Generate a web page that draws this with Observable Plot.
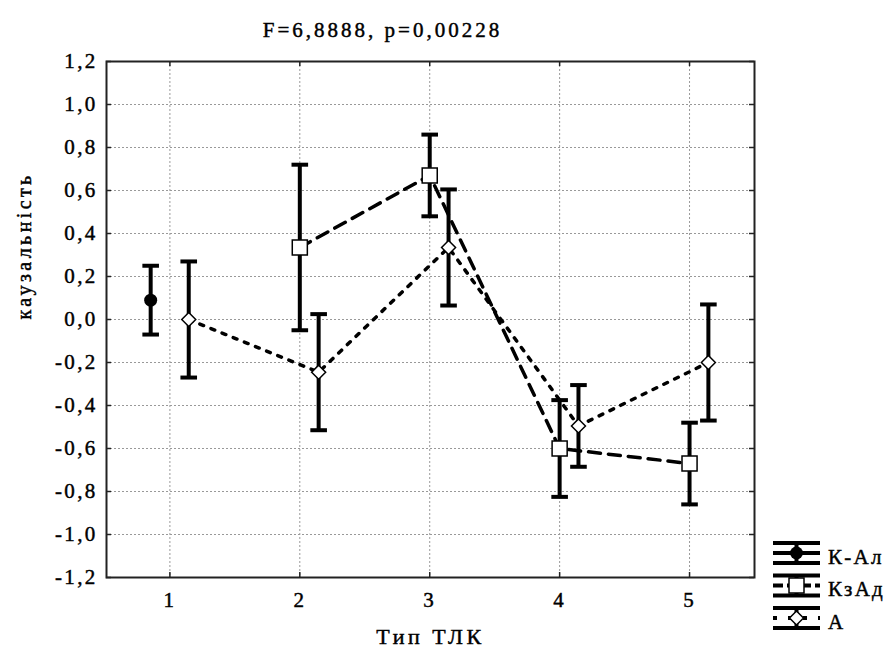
<!DOCTYPE html>
<html>
<head>
<meta charset="utf-8">
<script src="https://cdn.jsdelivr.net/npm/d3@7"></script>
<script src="https://cdn.jsdelivr.net/npm/@observablehq/plot@0.6"></script>
<style>
  html, body { margin: 0; padding: 0; background: #fff; }
  svg text { font-family: "Liberation Serif", "Times New Roman", serif !important; }
</style>
</head>
<body>
<div id="chart"></div>
<script>
// ---- data ----
const titleText = "F=6,8888, p=0,00228";
const xLabel = "Тип ТЛК";
const yLabel = "каузальність";
const types = [1, 2, 3, 4, 5];
const yTicks = [-1.2, -1.0, -0.8, -0.6, -0.4, -0.2, 0.0, 0.2, 0.4, 0.6, 0.8, 1.0, 1.2];
const seriesNames = ["К-Ал", "КзАд", "А"];
const kAlMean  = [0.09, null, null, null, null];
const kAlErr   = [0.16, null, null, null, null];
const kzAdMean = [null, 0.335, 0.67, -0.60, -0.67];
const kzAdErr  = [null, 0.385, 0.19, 0.225, 0.19];
const aMean    = [0.0, -0.245, 0.335, -0.495, -0.20];
const aErr     = [0.27, 0.27, 0.27, 0.19, 0.27];

// ---- styling per series ----
const offsets = {"К-Ал": -0.148, "КзАд": 0, "А": 0.145};
const dashes = {"К-Ал": null, "КзАд": "12,8", "А": "4,8"};
const means = [kAlMean, kzAdMean, aMean];
const errs = [kAlErr, kzAdErr, aErr];

const rows = [];
seriesNames.forEach((s, si) => {
  types.forEach((t, i) => {
    const m = means[si][i];
    if (m == null) return;
    const e = errs[si][i];
    rows.push({series: s, type: t, x: t + offsets[s], mean: m, lo: m - e, hi: m + e});
  });
});

const capSymbol = {draw(ctx) { ctx.moveTo(-8.3, 0); ctx.lineTo(8.3, 0); }};
const fmt = d => d.toFixed(1).replace(".", ",");

const legend = (index, scales, values, dims) => {
  const g = d3.create("svg:g");
  const x0 = dims.width - dims.marginRight + 19;
  const w = 47;
  const cy0 = dims.height - dims.marginBottom - 24;
  seriesNames.forEach((s, i) => {
    const cy = cy0 + i * 32.5;
    const line = (y, dash) => g.append("line")
      .attr("x1", x0).attr("x2", x0 + w).attr("y1", y).attr("y2", y)
      .attr("stroke", "#000").attr("stroke-width", 4)
      .attr("stroke-dasharray", dash);
    line(cy - 10, null);
    line(cy + 10, null);
    line(cy, dashes[s] ? (s === "А" ? "4,11" : "10,4") : null);
    g.append("line").attr("x1", x0 + w / 2).attr("x2", x0 + w / 2)
      .attr("y1", cy - 10).attr("y2", cy + 10)
      .attr("stroke", "#000").attr("stroke-width", 4);
    const cx = x0 + w / 2;
    if (s === "К-Ал") {
      g.append("circle").attr("cx", cx).attr("cy", cy).attr("r", 6.5).attr("fill", "#000");
    } else if (s === "КзАд") {
      g.append("rect").attr("x", cx - 7.5).attr("y", cy - 7.5).attr("width", 15).attr("height", 15)
        .attr("fill", "#fff").attr("stroke", "#000").attr("stroke-width", 1.5);
    } else {
      g.append("path").attr("d", `M${cx},${cy - 7}L${cx + 7},${cy}L${cx},${cy + 7}L${cx - 7},${cy}Z`)
        .attr("fill", "#fff").attr("stroke", "#000").attr("stroke-width", 1.5);
    }
    g.append("text").attr("x", x0 + 55).attr("y", cy + 4).attr("dy", "0.32em")
      .attr("text-anchor", "start")
      .attr("fill", "#000").attr("font-size", 21).text(s);
  });
  return g.node();
};

const chart = Plot.plot({
  width: 894,
  height: 657,
  marginLeft: 106,
  marginRight: 140,
  marginTop: 61,
  marginBottom: 80,
  style: {fontFamily: "'Liberation Serif', 'Times New Roman', serif", fontSize: "21px", letterSpacing: "2.3px", color: "#000", background: "#fff"},
  x: {domain: [0.512, 5.5]},
  y: {domain: [-1.2, 1.2]},
  marks: [
    Plot.gridX(types, {stroke: "#999", strokeOpacity: 1, strokeDasharray: "2,2"}),
    Plot.gridY(yTicks, {stroke: "#999", strokeOpacity: 1, strokeDasharray: "2,2"}),
    Plot.tickY(yTicks, {y: d => d, insetRight: 643, stroke: "#222", strokeWidth: 1.5}),
    Plot.tickY(yTicks, {y: d => d, insetLeft: 643, stroke: "#222", strokeWidth: 1.5}),
    Plot.tickX(types, {x: d => d, insetTop: 511, stroke: "#222", strokeWidth: 1.5}),
    Plot.tickX(types, {x: d => d, insetBottom: 511, stroke: "#222", strokeWidth: 1.5}),
    Plot.frame({stroke: "#222", strokeWidth: 2}),
    Plot.axisX(types, {tickSize: 0, tickPadding: 15, tickFormat: d => String(d), label: null, fill: "#000", fontSize: 21}),
    Plot.axisY(yTicks, {tickSize: 0, tickPadding: 9, tickFormat: fmt, label: null, fill: "#000", fontSize: 21}),
    Plot.ruleX(rows, {x: "x", y1: "lo", y2: "hi", stroke: "#000", strokeWidth: 4}),
    Plot.dot(rows, {x: "x", y: "hi", symbol: capSymbol, r: 1, fill: "none", stroke: "#000", strokeWidth: 4}),
    Plot.dot(rows, {x: "x", y: "lo", symbol: capSymbol, r: 1, fill: "none", stroke: "#000", strokeWidth: 4}),
    Plot.line(rows.filter(d => d.series === "КзАд"), {x: "x", y: "mean", stroke: "#000", strokeWidth: 3.5, strokeDasharray: dashes["КзАд"]}),
    Plot.line(rows.filter(d => d.series === "А"), {x: "x", y: "mean", stroke: "#000", strokeWidth: 3.5, strokeDasharray: dashes["А"]}),
    Plot.dot(rows.filter(d => d.series === "К-Ал"), {x: "x", y: "mean", r: 6.5, fill: "#000", stroke: "none"}),
    Plot.dot(rows.filter(d => d.series === "КзАд"), {x: "x", y: "mean", symbol: "square", r: 8.5, fill: "#fff", stroke: "#000", strokeWidth: 1.5}),
    Plot.dot(rows.filter(d => d.series === "А"), {x: "x", y: "mean", symbol: "diamond2", r: 6.3, fill: "#fff", stroke: "#000", strokeWidth: 1.5}),
    Plot.text([titleText], {text: d => d, frameAnchor: "top", dy: -39, dx: -48, fontSize: 21, fill: "#000"}),
    Plot.text([xLabel], {text: d => d, frameAnchor: "bottom", dy: 66, fontSize: 22, fill: "#000"}),
    Plot.text([yLabel], {text: d => d, frameAnchor: "left", dx: -82, rotate: -90, fontSize: 20, fill: "#000"}),
    legend
  ]
});
const spacing = {[titleText]: "3px", [xLabel]: "3.5px", [yLabel]: "3.4px"};
d3.select(chart).selectAll("text").each(function() {
  this.style.fontFamily = "'Liberation Serif', 'Times New Roman', serif";
  this.style.stroke = "#000";
  this.style.strokeWidth = "0.45px";
  const sp = spacing[this.textContent];
  if (sp) this.style.letterSpacing = sp;
});
document.getElementById("chart").appendChild(chart);
</script>
</body>
</html>
